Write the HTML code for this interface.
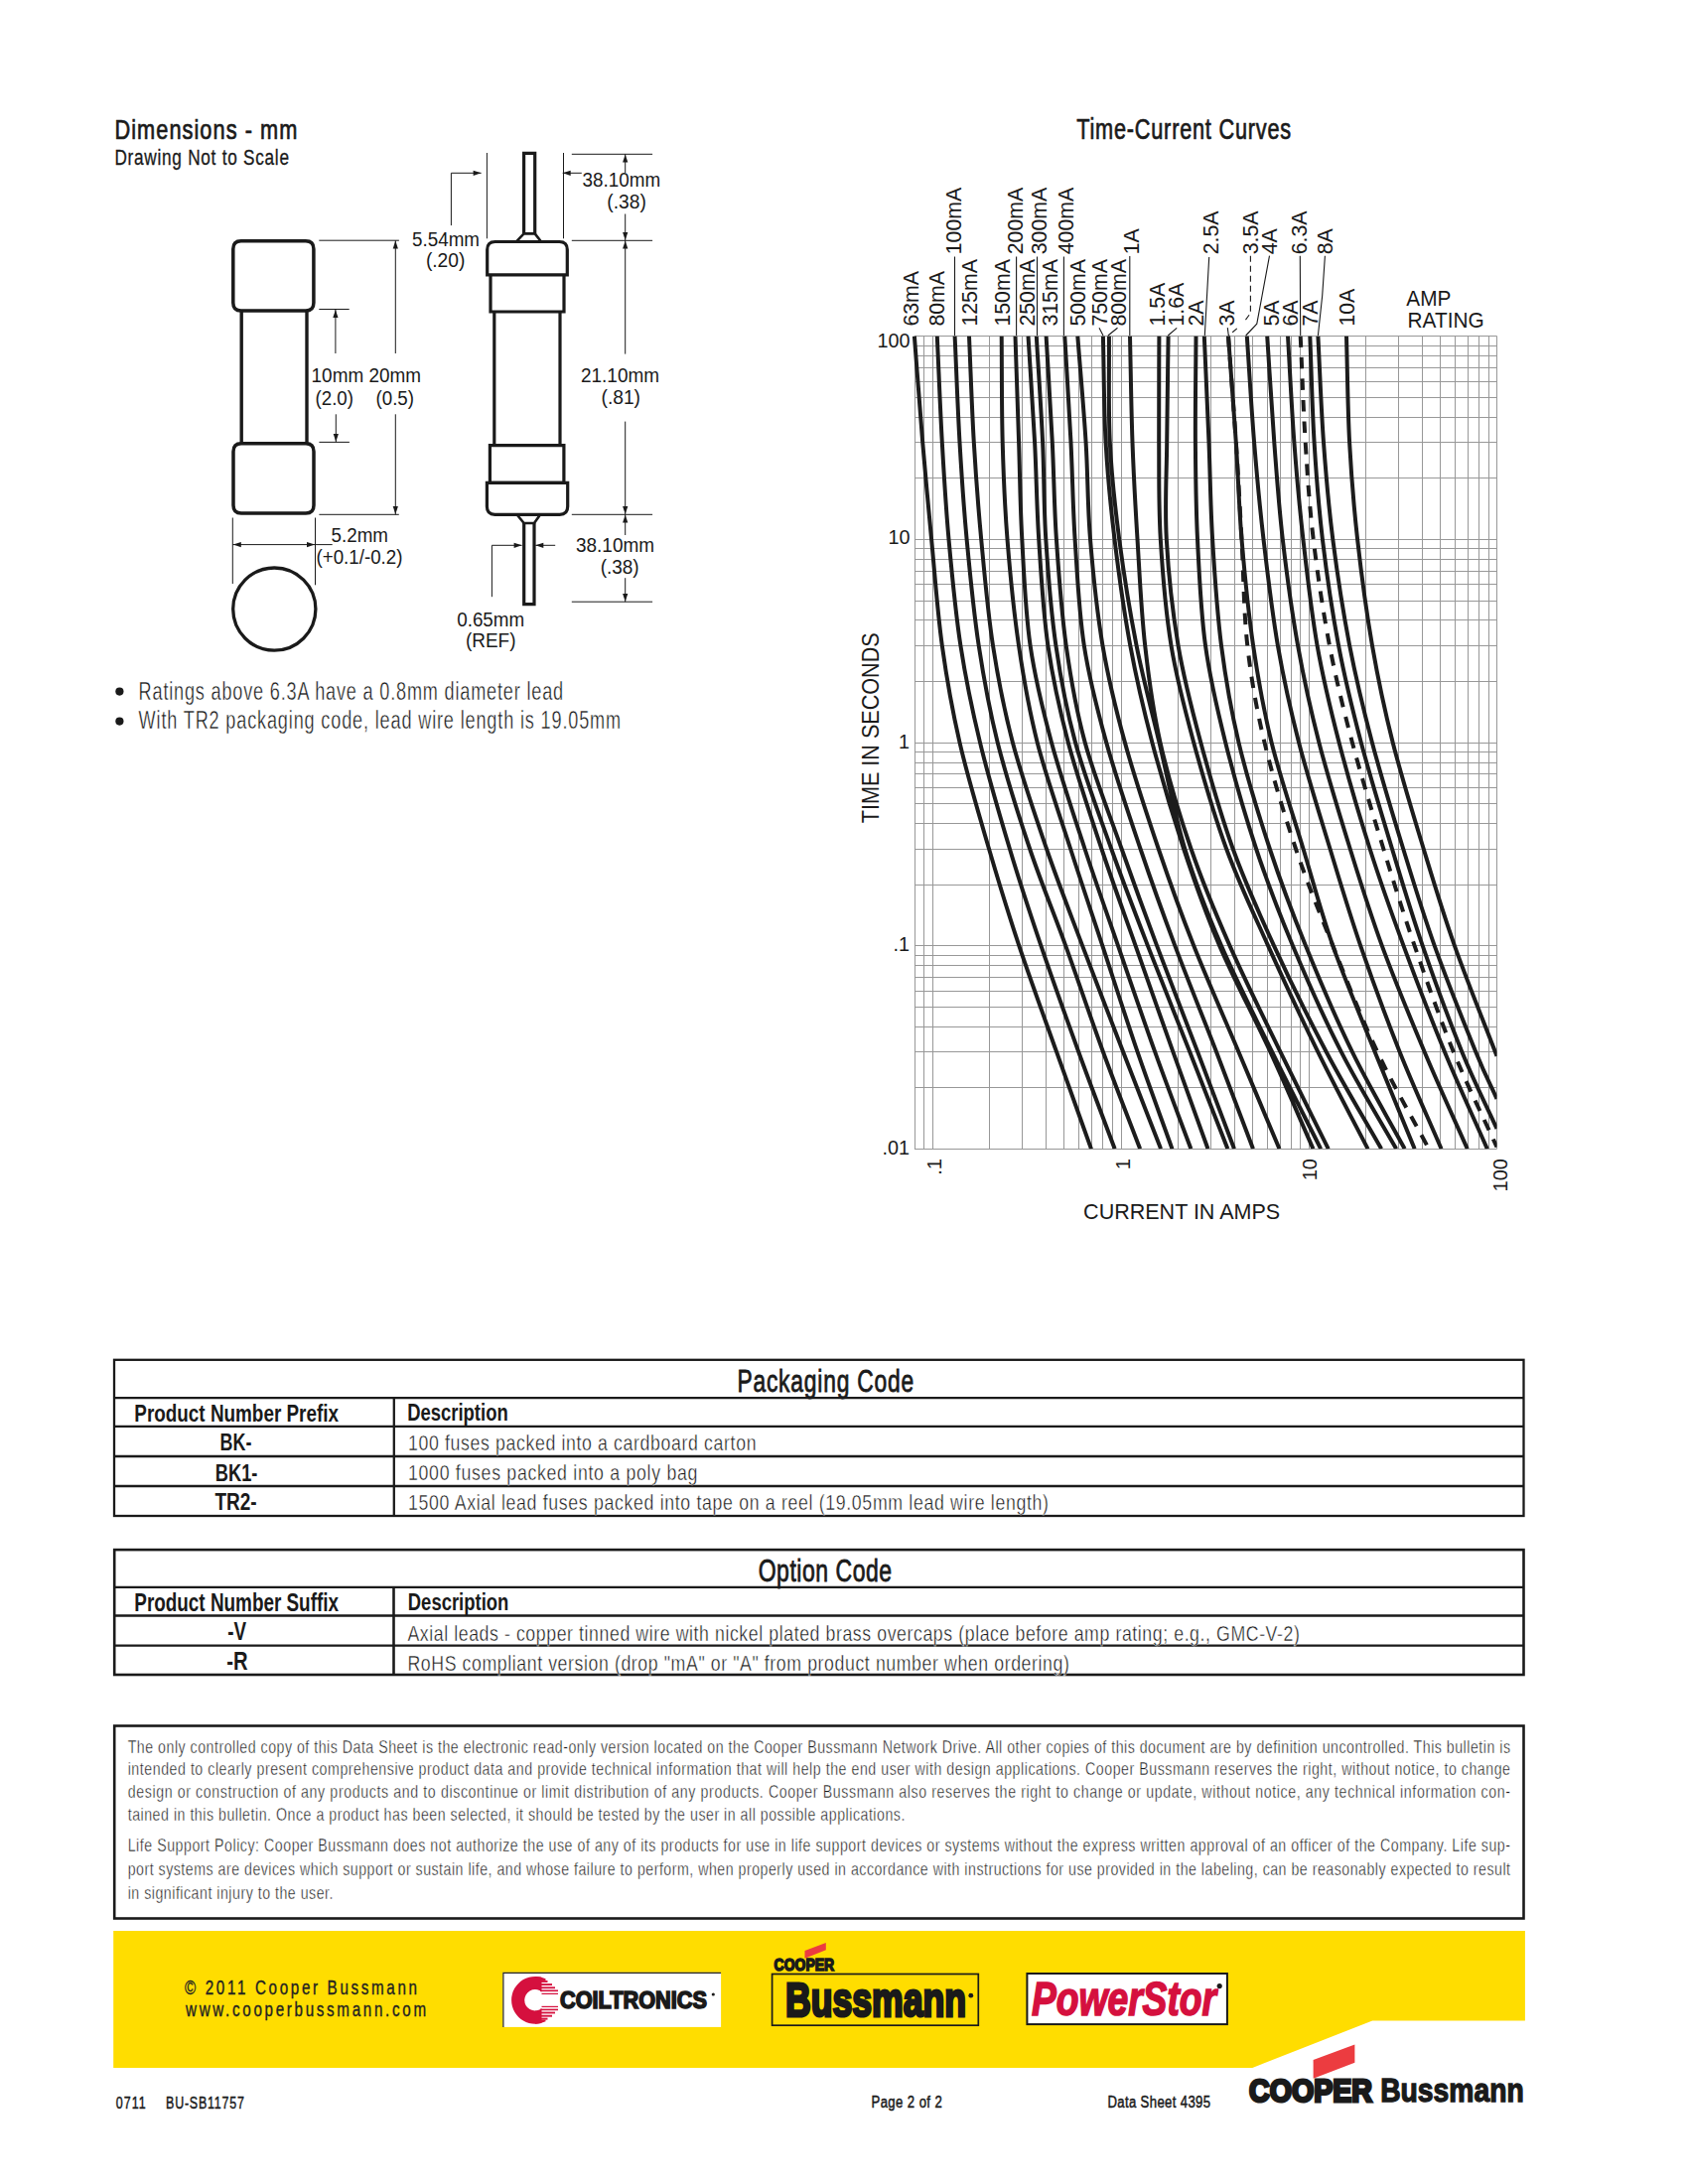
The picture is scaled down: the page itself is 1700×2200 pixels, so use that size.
<!DOCTYPE html>
<html><head><meta charset="utf-8"><title>Datasheet</title>
<style>html,body{margin:0;padding:0;background:#fff;}svg{display:block;}text{font-family:"Liberation Sans",sans-serif;}</style>
</head><body>
<svg width="1700" height="2200" viewBox="0 0 1700 2200" fill="#1a1a1a">
<rect width="1700" height="2200" fill="#fff"/>
<text x="0" y="0" font-size="27.91" transform="translate(115.4 139.6) scale(0.78 1)" textLength="235.9" lengthAdjust="spacing" stroke="#1a1a1a" stroke-width="0.7">Dimensions - mm</text>
<text x="0" y="0" font-size="21.51" transform="translate(115.4 166.3) scale(0.8 1)" textLength="219.5" lengthAdjust="spacing" stroke="#1a1a1a" stroke-width="0.3">Drawing Not to Scale</text>
<text x="0" y="0" font-size="28.63" transform="translate(1084.2 139.9) scale(0.76 1)" textLength="284.2" lengthAdjust="spacing" stroke="#1a1a1a" stroke-width="0.7">Time-Current Curves</text>
<path d="M242.8,242.7 H307.9 Q315.9,242.7 315.9,250.7 V304.9 Q315.9,312.9 307.9,312.9 H242.8 Q234.8,312.9 234.8,304.9 V250.7 Q234.8,242.7 242.8,242.7 Z" stroke="#1a1a1a" stroke-width="3.5" fill="none" />
<path d="M243.0,446.8 H308.0 Q316.0,446.8 316.0,454.8 V509.0 Q316.0,517.0 308.0,517.0 H243.0 Q235.0,517.0 235.0,509.0 V454.8 Q235.0,446.8 243.0,446.8 Z" stroke="#1a1a1a" stroke-width="3.5" fill="none" />
<line x1="243.2" y1="312.9" x2="243.2" y2="446.8" stroke="#1a1a1a" stroke-width="3.4" />
<line x1="309.0" y1="312.9" x2="309.0" y2="446.8" stroke="#1a1a1a" stroke-width="3.4" />
<circle cx="276.3" cy="613.6" r="41.6" stroke="#1a1a1a" stroke-width="3.3" fill="none"/>
<line x1="321.3" y1="242.2" x2="401.9" y2="242.2" stroke="#1a1a1a" stroke-width="1" />
<line x1="321.3" y1="311.5" x2="351.7" y2="311.5" stroke="#1a1a1a" stroke-width="1" />
<line x1="321.4" y1="445.4" x2="351.9" y2="445.4" stroke="#1a1a1a" stroke-width="1" />
<line x1="321.4" y1="518.3" x2="401.8" y2="518.3" stroke="#1a1a1a" stroke-width="1" />
<line x1="398.3" y1="242.2" x2="398.3" y2="356.0" stroke="#1a1a1a" stroke-width="1" />
<polygon points="398.3,242.6 395.7,250.6 400.9,250.6" fill="#1a1a1a" />
<line x1="337.9" y1="311.5" x2="337.9" y2="356.0" stroke="#1a1a1a" stroke-width="1" />
<polygon points="337.9,311.9 335.3,319.9 340.5,319.9" fill="#1a1a1a" />
<line x1="338.3" y1="417.3" x2="338.3" y2="445.4" stroke="#1a1a1a" stroke-width="1" />
<polygon points="338.3,445.0 335.7,437.0 340.9,437.0" fill="#1a1a1a" />
<line x1="398.3" y1="417.3" x2="398.3" y2="518.3" stroke="#1a1a1a" stroke-width="1" />
<polygon points="398.3,517.9 395.7,509.9 400.9,509.9" fill="#1a1a1a" />
<line x1="234.3" y1="521.5" x2="234.3" y2="588.0" stroke="#1a1a1a" stroke-width="1" />
<line x1="317.5" y1="521.5" x2="317.5" y2="589.3" stroke="#1a1a1a" stroke-width="1" />
<line x1="234.3" y1="548.6" x2="334.7" y2="548.6" stroke="#1a1a1a" stroke-width="1" />
<polygon points="234.8,548.6 242.8,546.0 242.8,551.2" fill="#1a1a1a" />
<polygon points="317.0,548.6 309.0,546.0 309.0,551.2" fill="#1a1a1a" />
<text x="313.6" y="384.8" font-size="19.33" textLength="110.4" lengthAdjust="spacingAndGlyphs" >10mm 20mm</text>
<text x="317.5" y="407.6" font-size="19.33" textLength="38.5" lengthAdjust="spacingAndGlyphs" >(2.0)</text>
<text x="378.5" y="407.6" font-size="19.33" textLength="38.5" lengthAdjust="spacingAndGlyphs" >(0.5)</text>
<text x="333.6" y="545.9" font-size="19.33" textLength="57.4" lengthAdjust="spacingAndGlyphs" >5.2mm</text>
<text x="318.5" y="568.4" font-size="19.33" textLength="87.0" lengthAdjust="spacingAndGlyphs" >(+0.1/-0.2)</text>
<path d="M527.6,235.4 V154.4 H538.7 V235.4" stroke="#1a1a1a" stroke-width="3.2" fill="none" />
<path d="M527.6,235.4 H538.7 L544.5,242.8 M527.6,235.4 L520.5,242.8" stroke="#1a1a1a" stroke-width="2.6" fill="none" />
<path d="M490.7,276.8 V251.5 Q490.7,243.5 498.7,243.5 H563.3 Q571.3,243.5 571.3,251.5 V276.8 Z" stroke="#1a1a1a" stroke-width="3.2" fill="none" />
<path d="M494.0,276.8 V314 H568.0 V276.8" stroke="#1a1a1a" stroke-width="3.2" fill="none" />
<line x1="497.8" y1="314.0" x2="497.8" y2="448.6" stroke="#1a1a1a" stroke-width="3.2" />
<line x1="564.0" y1="314.0" x2="564.0" y2="448.6" stroke="#1a1a1a" stroke-width="3.2" />
<path d="M493.4,448.6 H567.9 V486.3 H493.4 Z" stroke="#1a1a1a" stroke-width="3.2" fill="none" />
<path d="M490.4,486.3 H571.7 V510.3 Q571.7,518.3 563.7,518.3 H498.4 Q490.4,518.3 490.4,510.3 Z" stroke="#1a1a1a" stroke-width="3.2" fill="none" />
<path d="M520.7,518.5 L527.7,527 H538 L544,518.5" stroke="#1a1a1a" stroke-width="2.6" fill="none" />
<path d="M527.7,527 V608.7 H538 V527" stroke="#1a1a1a" stroke-width="3.2" fill="none" />
<line x1="490.4" y1="154.0" x2="490.4" y2="240.3" stroke="#1a1a1a" stroke-width="1" />
<line x1="567.5" y1="154.0" x2="567.5" y2="240.3" stroke="#1a1a1a" stroke-width="1" />
<path d="M454.4,227.1 V174.3 H484.6" stroke="#1a1a1a" stroke-width="1" fill="none" />
<polygon points="484.6,174.3 476.6,171.7 476.6,176.9" fill="#1a1a1a" />
<line x1="585.8" y1="174.3" x2="566.7" y2="174.3" stroke="#1a1a1a" stroke-width="1" />
<polygon points="566.7,174.3 574.7,171.7 574.7,176.9" fill="#1a1a1a" />
<line x1="575.8" y1="155.3" x2="657.1" y2="155.3" stroke="#1a1a1a" stroke-width="1" />
<line x1="575.8" y1="242.3" x2="657.1" y2="242.3" stroke="#1a1a1a" stroke-width="1" />
<line x1="575.8" y1="518.3" x2="657.1" y2="518.3" stroke="#1a1a1a" stroke-width="1" />
<line x1="575.8" y1="606.2" x2="657.1" y2="606.2" stroke="#1a1a1a" stroke-width="1" />
<line x1="629.7" y1="155.3" x2="629.7" y2="174.0" stroke="#1a1a1a" stroke-width="1" />
<polygon points="629.7,155.6 627.1,163.6 632.3,163.6" fill="#1a1a1a" />
<line x1="629.7" y1="215.5" x2="629.7" y2="242.3" stroke="#1a1a1a" stroke-width="1" />
<polygon points="629.7,242.0 627.1,234.0 632.3,234.0" fill="#1a1a1a" />
<line x1="629.7" y1="242.3" x2="629.7" y2="356.6" stroke="#1a1a1a" stroke-width="1" />
<polygon points="629.7,242.6 627.1,250.6 632.3,250.6" fill="#1a1a1a" />
<line x1="629.7" y1="424.6" x2="629.7" y2="518.3" stroke="#1a1a1a" stroke-width="1" />
<polygon points="629.7,518.0 627.1,510.0 632.3,510.0" fill="#1a1a1a" />
<line x1="629.7" y1="518.3" x2="629.7" y2="539.0" stroke="#1a1a1a" stroke-width="1" />
<polygon points="629.7,518.6 627.1,526.6 632.3,526.6" fill="#1a1a1a" />
<line x1="629.7" y1="582.2" x2="629.7" y2="606.2" stroke="#1a1a1a" stroke-width="1" />
<polygon points="629.7,605.9 627.1,597.9 632.3,597.9" fill="#1a1a1a" />
<path d="M495.4,601.2 V549.3 H525.6" stroke="#1a1a1a" stroke-width="1" fill="none" />
<polygon points="525.6,549.3 517.6,546.7 517.6,551.9" fill="#1a1a1a" />
<line x1="559.2" y1="549.3" x2="539.3" y2="549.3" stroke="#1a1a1a" stroke-width="1" />
<polygon points="539.3,549.3 547.3,546.7 547.3,551.9" fill="#1a1a1a" />
<text x="415.0" y="247.5" font-size="19.33" textLength="68.0" lengthAdjust="spacingAndGlyphs" >5.54mm</text>
<text x="428.9" y="268.5" font-size="19.33" textLength="39.5" lengthAdjust="spacingAndGlyphs" >(.20)</text>
<text x="586.6" y="188.4" font-size="19.33" textLength="78.5" lengthAdjust="spacingAndGlyphs" >38.10mm</text>
<text x="611.3" y="209.7" font-size="19.33" textLength="39.5" lengthAdjust="spacingAndGlyphs" >(.38)</text>
<text x="585.0" y="384.8" font-size="19.33" textLength="79.0" lengthAdjust="spacingAndGlyphs" >21.10mm</text>
<text x="605.5" y="407.2" font-size="19.33" textLength="39.5" lengthAdjust="spacingAndGlyphs" >(.81)</text>
<text x="580.0" y="555.6" font-size="19.33" textLength="79.0" lengthAdjust="spacingAndGlyphs" >38.10mm</text>
<text x="604.7" y="578.0" font-size="19.33" textLength="39.0" lengthAdjust="spacingAndGlyphs" >(.38)</text>
<text x="460.2" y="630.6" font-size="19.33" textLength="68.0" lengthAdjust="spacingAndGlyphs" >0.65mm</text>
<text x="469.0" y="651.8" font-size="19.33" textLength="50.5" lengthAdjust="spacingAndGlyphs" >(REF)</text>
<circle cx="120.4" cy="696.6" r="4.1" fill="#1a1a1a"/>
<circle cx="120.4" cy="726.6" r="4.1" fill="#1a1a1a"/>
<text x="0" y="0" font-size="25.15" transform="translate(139.6 704.6) scale(0.72 1)" textLength="593.8" lengthAdjust="spacing" stroke="#fff" stroke-width="0.4">Ratings above 6.3A have a 0.8mm diameter lead</text>
<text x="0" y="0" font-size="25.15" transform="translate(139.6 734.3) scale(0.72 1)" textLength="674.3" lengthAdjust="spacing" stroke="#fff" stroke-width="0.4">With TR2 packaging code, lead wire length is 19.05mm</text>
<path d="M921.50,338.50V1157.30M930.50,338.50V1157.30M939.50,338.50V1157.30M996.50,338.50V1157.30M1029.50,338.50V1157.30M1053.50,338.50V1157.30M1071.50,338.50V1157.30M1086.50,338.50V1157.30M1099.50,338.50V1157.30M1110.50,338.50V1157.30M1120.50,338.50V1157.30M1129.50,338.50V1157.30M1186.50,338.50V1157.30M1219.50,338.50V1157.30M1243.50,338.50V1157.30M1261.50,338.50V1157.30M1276.50,338.50V1157.30M1289.50,338.50V1157.30M1300.50,338.50V1157.30M1309.50,338.50V1157.30M1318.50,338.50V1157.30M1375.50,338.50V1157.30M1408.50,338.50V1157.30M1432.50,338.50V1157.30M1450.50,338.50V1157.30M1465.50,338.50V1157.30M1478.50,338.50V1157.30M1489.50,338.50V1157.30M1499.50,338.50V1157.30M1507.50,338.50V1157.30M920.95,1157.50H1507.50M920.95,1095.50H1507.50M920.95,1059.50H1507.50M920.95,1034.50H1507.50M920.95,1014.50H1507.50M920.95,998.50H1507.50M920.95,984.50H1507.50M920.95,972.50H1507.50M920.95,962.50H1507.50M920.95,952.50H1507.50M920.95,891.50H1507.50M920.95,855.50H1507.50M920.95,829.50H1507.50M920.95,809.50H1507.50M920.95,793.50H1507.50M920.95,779.50H1507.50M920.95,768.50H1507.50M920.95,757.50H1507.50M920.95,748.50H1507.50M920.95,686.50H1507.50M920.95,650.50H1507.50M920.95,624.50H1507.50M920.95,605.50H1507.50M920.95,588.50H1507.50M920.95,575.50H1507.50M920.95,563.50H1507.50M920.95,552.50H1507.50M920.95,543.50H1507.50M920.95,481.50H1507.50M920.95,445.50H1507.50M920.95,420.50H1507.50M920.95,400.50H1507.50M920.95,384.50H1507.50M920.95,370.50H1507.50M920.95,358.50H1507.50M920.95,348.50H1507.50M920.95,338.50H1507.50" stroke="#989898" stroke-width="1" fill="none" />
<clipPath id="cc"><rect x="917.9" y="338.5" width="589.6" height="818.8"/></clipPath>
<path d="M920.90,338.50 C923.67,374.20 926.33,411.48 929.20,445.60 C932.07,479.72 934.83,509.08 938.10,543.20 C941.37,577.32 944.07,616.18 948.80,650.30 C953.53,684.42 958.63,713.78 966.50,747.90 C974.37,782.02 986.03,820.88 996.00,855.00 C1005.97,889.12 1014.95,918.48 1026.30,952.60 C1037.65,986.72 1051.98,1025.58 1064.10,1059.70 C1076.22,1093.82 1087.37,1124.77 1099.00,1157.30M943.80,338.50 C945.47,374.20 946.85,411.48 948.80,445.60 C950.75,479.72 952.40,509.08 955.50,543.20 C958.60,577.32 962.15,616.18 967.40,650.30 C972.65,684.42 978.75,713.78 987.00,747.90 C995.25,782.02 1006.67,820.88 1016.90,855.00 C1027.13,889.12 1036.83,918.48 1048.40,952.60 C1059.97,986.72 1073.92,1025.58 1086.30,1059.70 C1098.68,1093.82 1110.57,1124.77 1122.70,1157.30M961.60,338.50 C963.23,374.20 964.50,411.48 966.50,445.60 C968.50,479.72 970.40,509.08 973.60,543.20 C976.80,577.32 980.52,616.18 985.70,650.30 C990.88,684.42 996.13,713.78 1004.70,747.90 C1013.27,782.02 1025.68,820.88 1037.10,855.00 C1048.52,889.12 1060.88,918.48 1073.20,952.60 C1085.52,986.72 1098.50,1025.58 1111.00,1059.70 C1123.50,1093.82 1135.80,1124.77 1148.20,1157.30M976.00,338.50 C977.60,374.20 978.77,411.48 980.80,445.60 C982.83,479.72 985.00,509.08 988.20,543.20 C991.40,577.32 994.72,616.18 1000.00,650.30 C1005.28,684.42 1010.90,713.78 1019.90,747.90 C1028.90,782.02 1042.30,820.88 1054.00,855.00 C1065.70,889.12 1077.23,918.48 1090.10,952.60 C1102.97,986.72 1118.03,1025.58 1131.20,1059.70 C1144.37,1093.82 1156.47,1124.77 1169.10,1157.30M1008.70,338.50 C1009.03,374.20 1008.73,411.48 1009.70,445.60 C1010.67,479.72 1011.78,509.08 1014.50,543.20 C1017.22,577.32 1020.97,616.18 1026.00,650.30 C1031.03,684.42 1036.02,713.78 1044.70,747.90 C1053.38,782.02 1067.17,820.88 1078.10,855.00 C1089.03,889.12 1099.05,918.48 1110.30,952.60 C1121.55,986.72 1133.90,1025.58 1145.60,1059.70 C1157.30,1093.82 1168.87,1124.77 1180.50,1157.30M1022.50,338.50 C1023.70,374.20 1024.97,411.48 1026.10,445.60 C1027.23,479.72 1027.38,509.08 1029.30,543.20 C1031.22,577.32 1032.65,616.18 1037.60,650.30 C1042.55,684.42 1049.85,713.78 1059.00,747.90 C1068.15,782.02 1081.33,820.88 1092.50,855.00 C1103.67,889.12 1114.22,918.48 1126.00,952.60 C1137.78,986.72 1150.97,1025.58 1163.20,1059.70 C1175.43,1093.82 1187.33,1124.77 1199.40,1157.30M1035.50,338.50 C1037.70,374.20 1040.32,411.48 1042.10,445.60 C1043.88,479.72 1043.98,509.08 1046.20,543.20 C1048.42,577.32 1050.47,616.18 1055.40,650.30 C1060.33,684.42 1066.80,713.78 1075.80,747.90 C1084.80,782.02 1098.10,820.88 1109.40,855.00 C1120.70,889.12 1131.60,918.48 1143.60,952.60 C1155.60,986.72 1169.25,1025.58 1181.40,1059.70 C1193.55,1093.82 1204.80,1124.77 1216.50,1157.30M1043.80,338.50 C1045.90,374.20 1048.52,411.48 1050.10,445.60 C1051.68,479.72 1051.08,509.08 1053.30,543.20 C1055.52,577.32 1058.45,616.18 1063.40,650.30 C1068.35,684.42 1073.70,713.78 1083.00,747.90 C1092.30,782.02 1107.05,820.88 1119.20,855.00 C1131.35,889.12 1142.72,918.48 1155.90,952.60 C1169.08,986.72 1184.88,1025.58 1198.30,1059.70 C1211.72,1093.82 1223.70,1124.77 1236.40,1157.30M1053.60,338.50 C1055.67,374.20 1058.08,411.48 1059.80,445.60 C1061.52,479.72 1061.58,509.08 1063.90,543.20 C1066.22,577.32 1068.90,616.18 1073.70,650.30 C1078.50,684.42 1083.38,713.78 1092.70,747.90 C1102.02,782.02 1117.53,820.88 1129.60,855.00 C1141.67,889.12 1152.33,918.48 1165.10,952.60 C1177.87,986.72 1193.22,1025.58 1206.20,1059.70 C1219.18,1093.82 1230.73,1124.77 1243.00,1157.30M1072.30,338.50 C1074.37,374.20 1076.78,411.48 1078.50,445.60 C1080.22,479.72 1080.38,509.08 1082.60,543.20 C1084.82,577.32 1086.53,616.18 1091.80,650.30 C1097.07,684.42 1104.75,713.78 1114.20,747.90 C1123.65,782.02 1136.98,820.88 1148.50,855.00 C1160.02,889.12 1170.53,918.48 1183.30,952.60 C1196.07,986.72 1211.98,1025.58 1225.10,1059.70 C1238.22,1093.82 1249.70,1124.77 1262.00,1157.30M1085.30,338.50 C1088.07,374.20 1091.48,411.48 1093.60,445.60 C1095.72,479.72 1095.18,509.08 1098.00,543.20 C1100.82,577.32 1104.68,616.18 1110.50,650.30 C1116.32,684.42 1123.53,713.78 1132.90,747.90 C1142.27,782.02 1155.15,820.88 1166.70,855.00 C1178.25,889.12 1188.73,918.48 1202.20,952.60 C1215.67,986.72 1233.12,1025.58 1247.50,1059.70 C1261.88,1093.82 1274.83,1124.77 1288.50,1157.30M1110.90,338.50 C1111.80,374.20 1111.67,411.48 1113.60,445.60 C1115.53,479.72 1118.38,509.08 1122.50,543.20 C1126.62,577.32 1131.98,616.18 1138.30,650.30 C1144.62,684.42 1151.43,713.78 1160.40,747.90 C1169.37,782.02 1180.80,820.88 1192.10,855.00 C1203.40,889.12 1213.65,918.48 1228.20,952.60 C1242.75,986.72 1263.68,1025.58 1279.40,1059.70 C1295.12,1093.82 1308.13,1124.77 1322.50,1157.30M1116.90,338.50 C1117.20,374.20 1116.08,411.48 1117.80,445.60 C1119.52,479.72 1122.73,509.08 1127.20,543.20 C1131.67,577.32 1137.88,616.18 1144.60,650.30 C1151.32,684.42 1159.38,713.78 1167.50,747.90 C1175.62,782.02 1182.88,820.88 1193.30,855.00 C1203.72,889.12 1215.35,918.48 1230.00,952.60 C1244.65,986.72 1264.50,1025.58 1281.20,1059.70 C1297.90,1093.82 1313.87,1124.77 1330.20,1157.30M1138.00,338.50 C1138.83,374.20 1139.25,411.48 1140.50,445.60 C1141.75,479.72 1143.38,509.08 1145.50,543.20 C1147.62,577.32 1149.37,616.18 1153.20,650.30 C1157.03,684.42 1160.78,713.78 1168.50,747.90 C1176.22,782.02 1187.83,820.88 1199.50,855.00 C1211.17,889.12 1223.50,918.48 1238.50,952.60 C1253.50,986.72 1272.95,1025.58 1289.50,1059.70 C1306.05,1093.82 1321.70,1124.77 1337.80,1157.30M1167.40,338.50 C1167.33,374.20 1166.97,411.48 1167.20,445.60 C1167.43,479.72 1166.75,509.08 1168.80,543.20 C1170.85,577.32 1173.93,616.18 1179.50,650.30 C1185.07,684.42 1192.93,713.78 1202.20,747.90 C1211.47,782.02 1222.62,820.88 1235.10,855.00 C1247.58,889.12 1261.73,918.48 1277.10,952.60 C1292.47,986.72 1310.55,1025.58 1327.30,1059.70 C1344.05,1093.82 1360.83,1124.77 1377.60,1157.30M1176.60,338.50 C1176.13,374.20 1175.50,411.48 1175.20,445.60 C1174.90,479.72 1172.90,509.08 1174.80,543.20 C1176.70,577.32 1180.85,616.18 1186.60,650.30 C1192.35,684.42 1200.12,713.78 1209.30,747.90 C1218.48,782.02 1229.42,820.88 1241.70,855.00 C1253.98,889.12 1267.32,918.48 1283.00,952.60 C1298.68,986.72 1317.77,1025.58 1335.80,1059.70 C1353.83,1093.82 1372.73,1124.77 1391.20,1157.30M1204.50,338.50 C1204.30,374.20 1203.65,411.48 1203.90,445.60 C1204.15,479.72 1204.32,509.08 1206.00,543.20 C1207.68,577.32 1209.30,616.18 1214.00,650.30 C1218.70,684.42 1225.68,713.78 1234.20,747.90 C1242.72,782.02 1253.82,820.88 1265.10,855.00 C1276.38,889.12 1287.62,918.48 1301.90,952.60 C1316.18,986.72 1333.42,1025.58 1350.80,1059.70 C1368.18,1093.82 1387.73,1124.77 1406.20,1157.30M1212.80,338.50 C1214.37,374.20 1216.12,411.48 1217.50,445.60 C1218.88,479.72 1219.02,509.08 1221.10,543.20 C1223.18,577.32 1225.60,616.18 1230.00,650.30 C1234.40,684.42 1239.37,713.78 1247.50,747.90 C1255.63,782.02 1267.57,820.88 1278.80,855.00 C1290.03,889.12 1301.05,918.48 1314.90,952.60 C1328.75,986.72 1345.27,1025.58 1361.90,1059.70 C1378.53,1093.82 1397.10,1124.77 1414.70,1157.30M1237.00,338.50 C1239.60,374.20 1242.55,411.48 1244.80,445.60 C1247.05,479.72 1247.62,509.08 1250.50,543.20 C1253.38,577.32 1257.08,616.18 1262.10,650.30 C1267.12,684.42 1272.20,713.78 1280.60,747.90 C1289.00,782.02 1302.22,820.88 1312.50,855.00 C1322.78,889.12 1330.27,918.48 1342.30,952.60 C1354.33,986.72 1370.97,1025.58 1384.70,1059.70 C1398.43,1093.82 1411.37,1124.77 1424.70,1157.30M1255.80,338.50 C1258.23,374.20 1260.32,411.48 1263.10,445.60 C1265.88,479.72 1268.53,509.08 1272.50,543.20 C1276.47,577.32 1280.97,616.18 1286.90,650.30 C1292.83,684.42 1299.33,713.78 1308.10,747.90 C1316.87,782.02 1329.15,820.88 1339.50,855.00 C1349.85,889.12 1358.50,918.48 1370.20,952.60 C1381.90,986.72 1396.13,1025.58 1409.70,1059.70 C1423.27,1093.82 1437.63,1124.77 1451.60,1157.30M1276.20,338.50 C1278.57,374.20 1280.70,411.48 1283.30,445.60 C1285.90,479.72 1287.83,509.08 1291.80,543.20 C1295.77,577.32 1301.00,616.18 1307.10,650.30 C1313.20,684.42 1319.63,713.78 1328.40,747.90 C1337.17,782.02 1349.13,820.88 1359.70,855.00 C1370.27,889.12 1379.30,918.48 1391.80,952.60 C1404.30,986.72 1420.37,1025.58 1434.70,1059.70 C1449.03,1093.82 1463.43,1124.77 1477.80,1157.30M1297.00,338.50 C1299.13,374.20 1300.83,411.48 1303.40,445.60 C1305.97,479.72 1308.53,509.08 1312.40,543.20 C1316.27,577.32 1320.57,616.18 1326.60,650.30 C1332.63,684.42 1339.77,713.78 1348.60,747.90 C1357.43,782.02 1368.78,820.88 1379.60,855.00 C1390.42,889.12 1400.93,918.48 1413.50,952.60 C1426.07,986.72 1440.95,1025.58 1455.00,1059.70 C1469.05,1093.82 1483.53,1124.77 1497.80,1157.30M1319.30,338.50 C1320.73,374.20 1321.50,411.48 1323.60,445.60 C1325.70,479.72 1327.82,509.08 1331.90,543.20 C1335.98,577.32 1341.62,616.18 1348.10,650.30 C1354.58,684.42 1361.82,713.78 1370.80,747.90 C1379.78,782.02 1391.68,820.88 1402.00,855.00 C1412.32,889.12 1420.97,918.48 1432.70,952.60 C1444.43,986.72 1459.93,1028.97 1472.40,1059.70 C1484.87,1090.43 1495.80,1111.23 1507.50,1137.00M1327.40,338.50 C1329.27,374.20 1330.52,411.48 1333.00,445.60 C1335.48,479.72 1337.93,509.08 1342.30,543.20 C1346.67,577.32 1352.60,616.18 1359.20,650.30 C1365.80,684.42 1372.90,713.78 1381.90,747.90 C1390.90,782.02 1402.73,820.88 1413.20,855.00 C1423.67,889.12 1432.52,918.48 1444.70,952.60 C1456.88,986.72 1475.83,1033.97 1486.30,1059.70 C1496.77,1085.43 1500.43,1091.23 1507.50,1107.00M1356.00,338.50 C1357.03,374.20 1357.25,411.48 1359.10,445.60 C1360.95,479.72 1363.28,509.08 1367.10,543.20 C1370.92,577.32 1376.07,616.18 1382.00,650.30 C1387.93,684.42 1394.08,713.78 1402.70,747.90 C1411.32,782.02 1423.33,820.88 1433.70,855.00 C1444.07,889.12 1452.60,917.78 1464.90,952.60 C1477.20,987.42 1493.30,1026.80 1507.50,1063.90" stroke="#1c1c1c" stroke-width="4.0" fill="none" clip-path="url(#cc)"/>
<path d="M1237.00,338.50 C1239.60,374.20 1242.55,411.48 1244.80,445.60 C1247.05,479.72 1248.58,509.08 1250.50,543.20 C1252.42,577.32 1252.47,616.18 1256.30,650.30 C1260.13,684.42 1265.38,713.78 1273.50,747.90 C1281.62,782.02 1293.53,820.88 1305.00,855.00 C1316.47,889.12 1328.60,918.48 1342.30,952.60 C1356.00,986.72 1371.08,1025.58 1387.20,1059.70 C1403.32,1093.82 1421.73,1124.77 1439.00,1157.30M1309.70,338.50 C1311.37,374.20 1312.53,411.48 1314.70,445.60 C1316.87,479.72 1318.65,509.08 1322.70,543.20 C1326.75,577.32 1332.47,616.18 1339.00,650.30 C1345.53,684.42 1352.85,713.78 1361.90,747.90 C1370.95,782.02 1382.85,820.88 1393.30,855.00 C1403.75,889.12 1412.83,918.48 1424.60,952.60 C1436.37,986.72 1450.08,1025.88 1463.90,1059.70 C1477.72,1093.52 1492.97,1123.57 1507.50,1155.50" stroke="#1c1c1c" stroke-width="4.0" fill="none" clip-path="url(#cc)" stroke-dasharray="11.5 10"/>
<text x="925.5" y="328.6" font-size="21.30" transform="rotate(-90 925.5 328.6)" >63mA</text>
<text x="950.7" y="328.6" font-size="21.30" transform="rotate(-90 950.7 328.6)" >80mA</text>
<text x="984.0" y="328.6" font-size="21.30" transform="rotate(-90 984.0 328.6)" >125mA</text>
<text x="1017.4" y="328.6" font-size="21.30" transform="rotate(-90 1017.4 328.6)" >150mA</text>
<text x="1042.5" y="328.6" font-size="21.30" transform="rotate(-90 1042.5 328.6)" >250mA</text>
<text x="1065.5" y="328.6" font-size="21.30" transform="rotate(-90 1065.5 328.6)" >315mA</text>
<text x="1093.0" y="328.6" font-size="21.30" transform="rotate(-90 1093.0 328.6)" >500mA</text>
<text x="1115.1" y="328.6" font-size="21.30" transform="rotate(-90 1115.1 328.6)" >750mA</text>
<text x="1133.6" y="328.6" font-size="21.30" transform="rotate(-90 1133.6 328.6)" >800mA</text>
<text x="1172.6" y="328.6" font-size="21.30" transform="rotate(-90 1172.6 328.6)" >1.5A</text>
<text x="1192.1" y="328.6" font-size="21.30" transform="rotate(-90 1192.1 328.6)" >1.6A</text>
<text x="1211.8" y="328.6" font-size="21.30" transform="rotate(-90 1211.8 328.6)" >2A</text>
<text x="1242.9" y="328.6" font-size="21.30" transform="rotate(-90 1242.9 328.6)" >3A</text>
<text x="1288.1" y="328.6" font-size="21.30" transform="rotate(-90 1288.1 328.6)" >5A</text>
<text x="1306.9" y="328.6" font-size="21.30" transform="rotate(-90 1306.9 328.6)" >6A</text>
<text x="1327.3" y="328.6" font-size="21.30" transform="rotate(-90 1327.3 328.6)" >7A</text>
<text x="1364.4" y="328.6" font-size="21.30" transform="rotate(-90 1364.4 328.6)" >10A</text>
<text x="967.8" y="256.3" font-size="21.30" transform="rotate(-90 967.8 256.3)" >100mA</text>
<text x="1030.0" y="256.3" font-size="21.30" transform="rotate(-90 1030.0 256.3)" >200mA</text>
<text x="1054.4" y="256.3" font-size="21.30" transform="rotate(-90 1054.4 256.3)" >300mA</text>
<text x="1081.0" y="256.3" font-size="21.30" transform="rotate(-90 1081.0 256.3)" >400mA</text>
<text x="1146.7" y="256.3" font-size="21.30" transform="rotate(-90 1146.7 256.3)" >1A</text>
<text x="1227.4" y="256.3" font-size="21.30" transform="rotate(-90 1227.4 256.3)" >2.5A</text>
<text x="1266.6" y="256.3" font-size="21.30" transform="rotate(-90 1266.6 256.3)" >3.5A</text>
<text x="1285.9" y="256.3" font-size="21.30" transform="rotate(-90 1285.9 256.3)" >4A</text>
<text x="1316.2" y="256.3" font-size="21.30" transform="rotate(-90 1316.2 256.3)" >6.3A</text>
<text x="1342.2" y="256.3" font-size="21.30" transform="rotate(-90 1342.2 256.3)" >8A</text>
<path d="M961.5,258.5V338 M1023.6,258.5V338 M1044.5,258.5V338 M1071.4,258.5V338 M1107,330.3L1111,338 M1125.5,330.3L1115.9,338 M1137.8,258V338 M1185.2,330.3L1176.3,338 M1217.7,259L1213.3,338 M1236.3,330.1L1237.3,338 M1278.5,257.7L1265.8,326.2L1254.7,338 M1309.3,257.7L1309.7,338 M1334.4,257.7L1331.7,297.7L1327.4,338" stroke="#1a1a1a" stroke-width="1.1" fill="none" />
<path d="M1259.4,257.7V315.5L1253.1,323.9 M1245.8,330.9L1237.3,338" stroke="#1a1a1a" stroke-width="1.1" fill="none" stroke-dasharray="6 4"/>
<text x="1416.3" y="307.7" font-size="21.80" textLength="45.0" lengthAdjust="spacingAndGlyphs" >AMP</text>
<text x="1417.6" y="329.9" font-size="21.80" textLength="77.0" lengthAdjust="spacingAndGlyphs" >RATING</text>
<text x="916.5" y="349.5" font-size="19.77" text-anchor="end" >100</text>
<text x="916.5" y="548.0" font-size="19.77" text-anchor="end" >10</text>
<text x="916.0" y="754.3" font-size="19.77" text-anchor="end" >1</text>
<text x="916.0" y="957.9" font-size="19.77" text-anchor="end" >.1</text>
<text x="916.0" y="1162.9" font-size="19.77" text-anchor="end" >.01</text>
<text x="884.6" y="829.3" font-size="23.26" textLength="192.0" lengthAdjust="spacingAndGlyphs" transform="rotate(-90 884.6 829.3)" >TIME IN SECONDS</text>
<text x="948.0" y="1167.0" font-size="20.06" text-anchor="end" transform="rotate(-90 948.0 1167.0)" >.1</text>
<text x="1137.5" y="1167.0" font-size="20.06" text-anchor="end" transform="rotate(-90 1137.5 1167.0)" >1</text>
<text x="1326.0" y="1167.0" font-size="20.06" text-anchor="end" transform="rotate(-90 1326.0 1167.0)" >10</text>
<text x="1518.0" y="1167.0" font-size="20.06" text-anchor="end" transform="rotate(-90 1518.0 1167.0)" >100</text>
<text x="1091.1" y="1227.6" font-size="22.09" textLength="198.1" lengthAdjust="spacingAndGlyphs" >CURRENT IN AMPS</text>
<rect x="115" y="1369.8" width="1419.5" height="157.2" fill="none" stroke="#1a1a1a" stroke-width="2.3"/>
<line x1="115.0" y1="1408.2" x2="1534.5" y2="1408.2" stroke="#1a1a1a" stroke-width="2.3" />
<line x1="115.0" y1="1436.9" x2="1534.5" y2="1436.9" stroke="#1a1a1a" stroke-width="2.3" />
<line x1="115.0" y1="1467.0" x2="1534.5" y2="1467.0" stroke="#1a1a1a" stroke-width="2.3" />
<line x1="115.0" y1="1497.0" x2="1534.5" y2="1497.0" stroke="#1a1a1a" stroke-width="2.3" />
<line x1="396.8" y1="1408.2" x2="396.8" y2="1527.0" stroke="#1a1a1a" stroke-width="2.3" />
<text x="0" y="0" font-size="31.25" transform="translate(742.4 1401.7) scale(0.73 1)" textLength="243.6" lengthAdjust="spacing" stroke="#1a1a1a" stroke-width="0.8">Packaging Code</text>
<text x="135.3" y="1431.7" font-size="24.27" font-weight="bold" textLength="205.7" lengthAdjust="spacingAndGlyphs" >Product Number Prefix</text>
<text x="410.2" y="1431.2" font-size="23.98" font-weight="bold" textLength="101.5" lengthAdjust="spacingAndGlyphs" >Description</text>
<text x="221.6" y="1461.4" font-size="24.27" font-weight="bold" textLength="31.8" lengthAdjust="spacingAndGlyphs" >BK-</text>
<text x="216.8" y="1491.8" font-size="24.27" font-weight="bold" textLength="42.6" lengthAdjust="spacingAndGlyphs" >BK1-</text>
<text x="216.5" y="1521.1" font-size="24.27" font-weight="bold" textLength="42.2" lengthAdjust="spacingAndGlyphs" >TR2-</text>
<text x="0" y="0" font-size="21.37" transform="translate(411.0 1461.3) scale(0.83 1)" textLength="422.3" lengthAdjust="spacing" stroke="#fff" stroke-width="0.4">100 fuses packed into a cardboard carton</text>
<text x="0" y="0" font-size="21.37" transform="translate(411.0 1491.3) scale(0.83 1)" textLength="351.1" lengthAdjust="spacing" stroke="#fff" stroke-width="0.4">1000 fuses packed into a poly bag</text>
<text x="0" y="0" font-size="21.37" transform="translate(411.0 1521.0) scale(0.83 1)" textLength="777.1" lengthAdjust="spacing" stroke="#fff" stroke-width="0.4">1500 Axial lead fuses packed into tape on a reel (19.05mm lead wire length)</text>
<rect x="115.2" y="1561.1" width="1419.3" height="125.9" fill="none" stroke="#1a1a1a" stroke-width="2.5999999999999996"/>
<line x1="115.0" y1="1598.8" x2="1534.5" y2="1598.8" stroke="#1a1a1a" stroke-width="2.3" />
<line x1="115.0" y1="1627.5" x2="1534.5" y2="1627.5" stroke="#1a1a1a" stroke-width="2.3" />
<line x1="115.0" y1="1657.7" x2="1534.5" y2="1657.7" stroke="#1a1a1a" stroke-width="2.3" />
<line x1="396.5" y1="1598.8" x2="396.5" y2="1687.0" stroke="#1a1a1a" stroke-width="2.5999999999999996" />
<text x="0" y="0" font-size="31.54" transform="translate(763.7 1592.7) scale(0.73 1)" textLength="184.2" lengthAdjust="spacing" stroke="#1a1a1a" stroke-width="0.8">Option Code</text>
<text x="135.3" y="1622.6" font-size="25.00" font-weight="bold" textLength="205.7" lengthAdjust="spacingAndGlyphs" >Product Number Suffix</text>
<text x="410.8" y="1622.2" font-size="24.42" font-weight="bold" textLength="101.5" lengthAdjust="spacingAndGlyphs" >Description</text>
<text x="229.2" y="1652.4" font-size="24.85" font-weight="bold" textLength="18.8" lengthAdjust="spacingAndGlyphs" >-V</text>
<text x="228.2" y="1682.1" font-size="24.85" font-weight="bold" textLength="21.3" lengthAdjust="spacingAndGlyphs" >-R</text>
<text x="0" y="0" font-size="21.37" transform="translate(410.4 1652.7) scale(0.83 1)" textLength="1082.5" lengthAdjust="spacing" stroke="#fff" stroke-width="0.4">Axial leads - copper tinned wire with nickel plated brass overcaps (place before amp rating; e.g., GMC-V-2)</text>
<text x="0" y="0" font-size="21.37" transform="translate(410.4 1683.0) scale(0.83 1)" textLength="803.0" lengthAdjust="spacing" stroke="#fff" stroke-width="0.4">RoHS compliant version (drop &quot;mA&quot; or &quot;A&quot; from product number when ordering)</text>
<rect x="115.2" y="1738.5" width="1419.3" height="194" fill="none" stroke="#1a1a1a" stroke-width="2.6"/>
<text x="0" y="0" font-size="19.19" transform="translate(128.7 1765.6) scale(0.74 1)" textLength="1881.5" lengthAdjust="spacing" stroke="#fff" stroke-width="0.4">The only controlled copy of this Data Sheet is the electronic read-only version located on the Cooper Bussmann Network Drive. All other copies of this document are by definition uncontrolled. This bulletin is</text>
<text x="0" y="0" font-size="19.19" transform="translate(128.7 1788.4) scale(0.74 1)" textLength="1881.5" lengthAdjust="spacing" stroke="#fff" stroke-width="0.4">intended to clearly present comprehensive product data and provide technical information that will help the end user with design applications. Cooper Bussmann reserves the right, without notice, to change</text>
<text x="0" y="0" font-size="19.19" transform="translate(128.7 1811.1) scale(0.74 1)" textLength="1881.5" lengthAdjust="spacing" stroke="#fff" stroke-width="0.4">design or construction of any products and to discontinue or limit distribution of any products. Cooper Bussmann also reserves the right to change or update, without notice, any technical information con-</text>
<text x="0" y="0" font-size="19.19" transform="translate(128.7 1834.3) scale(0.74 1)" textLength="1057.7" lengthAdjust="spacing" stroke="#fff" stroke-width="0.4">tained in this bulletin. Once a product has been selected, it should be tested by the user in all possible applications.</text>
<text x="0" y="0" font-size="19.19" transform="translate(128.7 1864.6) scale(0.74 1)" textLength="1881.5" lengthAdjust="spacing" stroke="#fff" stroke-width="0.4">Life Support Policy: Cooper Bussmann does not authorize the use of any of its products for use in life support devices or systems without the express written approval of an officer of the Company. Life sup-</text>
<text x="0" y="0" font-size="19.19" transform="translate(128.7 1888.9) scale(0.74 1)" textLength="1881.5" lengthAdjust="spacing" stroke="#fff" stroke-width="0.4">port systems are devices which support or sustain life, and whose failure to perform, when properly used in accordance with instructions for use provided in the labeling, can be reasonably expected to result</text>
<text x="0" y="0" font-size="19.19" transform="translate(128.7 1912.9) scale(0.74 1)" textLength="279.5" lengthAdjust="spacing" stroke="#fff" stroke-width="0.4">in significant injury to the user.</text>
<polygon points="114.2,1945.0 1535.9,1945.0 1535.9,2035.6 1382.2,2035.6 1261.3,2083.0 114.2,2083.0" fill="#FFDD00" />
<text x="0" y="0" font-size="19.48" transform="translate(186.0 2008.5) scale(0.78 1)" textLength="300.0" lengthAdjust="spacing" fill="#222" stroke="#222" stroke-width="0.35">© 2011 Cooper Bussmann</text>
<text x="0" y="0" font-size="19.48" transform="translate(187.0 2030.6) scale(0.78 1)" textLength="310.3" lengthAdjust="spacing" fill="#222" stroke="#222" stroke-width="0.35">www.cooperbussmann.com</text>
<rect x="506.4" y="1986.8" width="219.7" height="55.1" fill="#fff"/>
<path d="M506.9,2041.9 V1987.3 H726.1" stroke="#222" stroke-width="1.2" fill="none" />
<clipPath id="cL"><rect x="500" y="1980" width="45.5" height="70"/></clipPath>
<clipPath id="cO"><circle cx="539" cy="2014.8" r="23.9"/></clipPath>
<path d="M539,1990.9 a23.9,23.9 0 1,0 0.01,0 Z M539,2004.05 a10.75,10.75 0 1,1 -0.01,0 Z" fill-rule="evenodd" fill="#D5103E" clip-path="url(#cL)"/>
<g fill="#D5103E"><rect x="544" y="1995.05" width="7.5" height="1.9"/><rect x="544" y="1998.15" width="12.0" height="1.9"/><rect x="544" y="2001.40" width="15.0" height="1.8"/><rect x="544" y="2004.50" width="18.0" height="1.6"/><rect x="545.5" y="2007.80" width="16.5" height="1.2"/><rect x="545.5" y="2020.80" width="16.5" height="1.2"/><rect x="544" y="2023.60" width="18.0" height="1.6"/><rect x="544" y="2026.60" width="15.0" height="1.8"/><rect x="544" y="2029.75" width="12.0" height="1.9"/><rect x="544" y="2032.65" width="7.5" height="1.9"/></g>
<path d="M539,1990.9 A23.9,23.9 0 0,1 549.5,1993.3 L549.5,1995 L544,1995 L544,2004.6 A10.75,10.75 0 0,0 539,2004.05 Z M539,2038.7 A23.9,23.9 0 0,0 549.5,2036.3 L549.5,2034.6 L544,2034.6 L544,2025 A10.75,10.75 0 0,1 539,2025.55 Z" fill="#D5103E"/>
<text x="564.0" y="2022.7" font-size="23.84" font-weight="bold" textLength="148.0" lengthAdjust="spacingAndGlyphs" stroke="#1a1a1a" stroke-width="1.6">COILTRONICS</text>
<circle cx="718.3" cy="2009" r="1.6" fill="#1a1a1a"/>
<rect x="777.6" y="1988.5" width="207.7" height="51.7" fill="none" stroke="#1a1a1a" stroke-width="1.7"/>
<text x="791.0" y="2031.0" font-size="47.24" font-weight="bold" textLength="182.0" lengthAdjust="spacingAndGlyphs" stroke="#1a1a1a" stroke-width="3">Bussmann</text>
<circle cx="977.8" cy="2010.2" r="2.4" fill="#1a1a1a"/>
<text x="779.6" y="1985.3" font-size="16.86" font-weight="bold" textLength="60.5" lengthAdjust="spacingAndGlyphs" stroke="#1a1a1a" stroke-width="1.6">COOPER</text>
<polygon points="810.5,1964.9 831.8,1957.1 831.8,1964.2 810.5,1972.7" fill="#EC3C40" />
<rect x="1034.4" y="1988" width="201.5" height="51.1" fill="#fff" stroke="#1a1a1a" stroke-width="2"/>
<text x="1039.0" y="2030.2" font-size="47.53" font-weight="bold" fill="#D5103E" textLength="186.0" lengthAdjust="spacingAndGlyphs" font-style="italic" stroke="#D5103E" stroke-width="1.6">PowerStor</text>
<circle cx="1228.2" cy="2000.6" r="2.6" fill="#1a1a1a"/>
<text x="0" y="0" font-size="16.42" transform="translate(116.8 2123.6) scale(0.76 1)" textLength="39.3" lengthAdjust="spacing" stroke="#1a1a1a" stroke-width="0.45">0711</text>
<text x="0" y="0" font-size="16.42" transform="translate(167.1 2123.6) scale(0.76 1)" textLength="103.6" lengthAdjust="spacing" stroke="#1a1a1a" stroke-width="0.45">BU-SB11757</text>
<text x="0" y="0" font-size="16.42" transform="translate(877.5 2123.3) scale(0.8 1)" textLength="89.1" lengthAdjust="spacing" stroke="#1a1a1a" stroke-width="0.5">Page 2 of 2</text>
<text x="0" y="0" font-size="16.42" transform="translate(1115.4 2123.3) scale(0.8 1)" textLength="129.6" lengthAdjust="spacing" stroke="#1a1a1a" stroke-width="0.5">Data Sheet 4395</text>
<polygon points="1322.6,2075.1 1364.4,2059.5 1364.4,2077.8 1322.6,2093.8" fill="#EC3C40" />
<text x="1258.0" y="2117.0" font-size="32.27" font-weight="bold" textLength="124.0" lengthAdjust="spacingAndGlyphs" stroke="#1a1a1a" stroke-width="3">COOPER</text>
<text x="1390.2" y="2117.0" font-size="32.56" font-weight="bold" textLength="144.5" lengthAdjust="spacingAndGlyphs" stroke="#1a1a1a" stroke-width="1.3">Bussmann</text>
</svg></body></html>
